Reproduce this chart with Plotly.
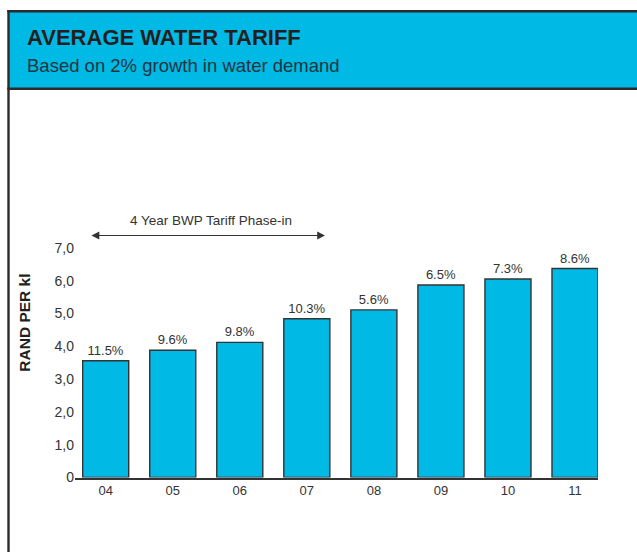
import plotly.graph_objects as go

# ---- data ----
years = ["04", "05", "06", "07", "08", "09", "10", "11"]
tariff = [3.56, 3.88, 4.12, 4.84, 5.11, 5.87, 6.05, 6.37]
growth_labels = ["11.5%", "9.6%", "9.8%", "10.3%", "5.6%", "6.5%", "7.3%", "8.6%"]
y_tick_vals = [0, 1, 2, 3, 4, 5, 6, 7]
y_tick_text = ["0", "1,0", "2,0", "3,0", "4,0", "5,0", "6,0", "7,0"]

W, H = 637, 552
CYAN = "#00B9E4"
DARK = "#2b2b2b"
FONT = "Liberation Sans, Arial, sans-serif"

def px(x):
    return x / W

def py(y):
    return 1 - y / H

fig = go.Figure()
fig.add_trace(go.Bar(
    x=years, y=tariff,
    marker=dict(color=CYAN, line=dict(color="#333333", width=1.4)),
    text=growth_labels, textposition="outside", cliponaxis=False,
    textfont=dict(family=FONT, size=13, color="#333333"),
    hoverinfo="skip",
))

shapes = [
    # header band
    dict(type="rect", xref="paper", yref="paper", x0=px(8.5), x1=px(W + 5),
         y0=py(88.7), y1=py(11.2), fillcolor=CYAN, line=dict(width=0), layer="below"),
    dict(type="line", xref="paper", yref="paper", x0=px(7.3), x1=px(W + 5),
         y0=py(11.2), y1=py(11.2), line=dict(color=DARK, width=2.4)),
    dict(type="line", xref="paper", yref="paper", x0=px(7.3), x1=px(W + 5),
         y0=py(88.7), y1=py(88.7), line=dict(color=DARK, width=2.6)),
    dict(type="line", xref="paper", yref="paper", x0=px(8.5), x1=px(8.5),
         y0=py(10), y1=py(H + 5), line=dict(color=DARK, width=2.4)),
]

annotations = [
    dict(xref="paper", yref="paper", x=px(25), y=py(38.0), xanchor="left", yanchor="middle",
         text="<b>AVERAGE WATER TARIFF</b>", showarrow=False,
         font=dict(family=FONT, size=22, color="#231f20")),
    dict(xref="paper", yref="paper", x=px(24.5), y=py(65.5), xanchor="left", yanchor="middle",
         text="Based on 2% growth in water demand", showarrow=False,
         font=dict(family=FONT, size=18.5, color="#1f3440")),
    dict(xref="paper", yref="paper", x=px(24.2), y=py(322.5), xanchor="center", yanchor="middle",
         text="<b>RAND PER kl</b>", textangle=-90, showarrow=False,
         font=dict(family=FONT, size=15.5, color="#231f20")),
    # phase-in arrow
    dict(xref="paper", yref="paper", x=px(325), y=py(235.5), axref="pixel", ayref="pixel",
         ax=-235, ay=0, text="", showarrow=True, arrowhead=2, startarrowhead=2,
         arrowside="end+start", arrowsize=1.3, arrowwidth=1.2, arrowcolor="#333333"),
    dict(xref="paper", yref="paper", x=px(210.8), y=py(220.7), text="4 Year BWP Tariff Phase-in",
         showarrow=False, xanchor="center", yanchor="middle",
         font=dict(family=FONT, size=13.5, color="#333333")),
]

fig.update_layout(
    width=W, height=H,
    margin=dict(l=0, r=0, t=0, b=0, pad=0, autoexpand=False),
    paper_bgcolor="white", plot_bgcolor="white",
    showlegend=False,
    bargap=0.313,
    shapes=shapes,
    annotations=annotations,
    xaxis=dict(type="category", range=[-0.458, 7.343], domain=[px(75), px(598)],
               showline=True, linecolor="#333333", linewidth=1.5, showgrid=False,
               ticks="", tickfont=dict(family=FONT, size=13, color="#333333"),
               fixedrange=True),
    yaxis=dict(range=[0, 7], domain=[py(477.5), py(247.9)], tickvals=y_tick_vals,
               ticktext=y_tick_text, showgrid=False, zeroline=False, showline=False,
               ticks="", tickfont=dict(family=FONT, size=14, color="#333333"),
               fixedrange=True),
)

fig.write_html("out.html")
